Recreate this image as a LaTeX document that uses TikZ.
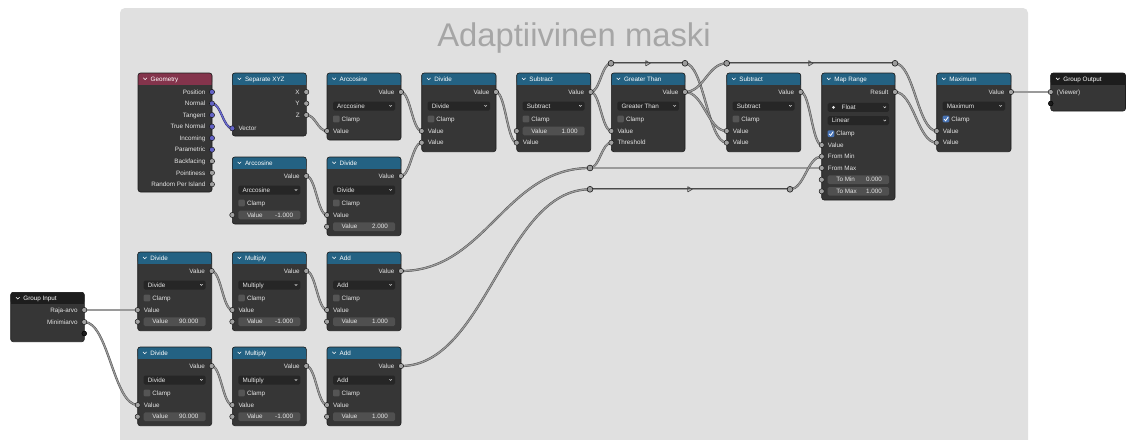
\documentclass[tikz,border=0pt]{standalone}
\usepackage{fontspec}
\setmainfont{Liberation Sans}
\usetikzlibrary{calc}
\definecolor{framebg}{HTML}{E0E0E0}
\definecolor{titlec}{HTML}{A6A6A6}
\definecolor{nodebg}{HTML}{363636}
\definecolor{nodeedge}{HTML}{1E1E1E}
\definecolor{mathhdr}{HTML}{246283}
\definecolor{geohdr}{HTML}{84344C}
\definecolor{grouphdr}{HTML}{1D1D1D}
\definecolor{labelc}{HTML}{E6E6E6}
\definecolor{ddbg}{HTML}{262626}
\definecolor{fldbg}{HTML}{505050}
\definecolor{chkbg}{HTML}{555555}
\definecolor{chkon}{HTML}{4772B3}
\definecolor{sockgray}{HTML}{A1A1A1}
\definecolor{sockvec}{HTML}{6363C7}
\definecolor{sockedge}{HTML}{1A1A1A}
\definecolor{sockempty}{HTML}{1C1C1C}
\definecolor{linkfill}{HTML}{9A9A9A}
\definecolor{linkedge}{HTML}{4A4A4A}
\definecolor{vlinkfill}{HTML}{6A6AD0}
\definecolor{vlinkedge}{HTML}{2A2A60}
\definecolor{rerfill}{HTML}{9C9C9C}
\newcommand\nfont{\fontsize{6.3}{7}\selectfont}
\tikzset{
  lbl/.style={text=labelc, font=\nfont, inner sep=0pt, text height=4.4pt, text depth=0pt},
  hlbl/.style={lbl, text=white},
  titlest/.style={text=titlec, font=\fontsize{32.8}{38}\selectfont, inner sep=0pt},
  link/.style={draw=linkedge, line width=0.45pt, double=linkfill, double distance=1.3pt},
  vlink/.style={draw=vlinkedge, line width=0.45pt, double=vlinkfill, double distance=1.3pt},
  gsock/.style={fill=sockgray, draw=sockedge, line width=0.5pt},
  vsock/.style={fill=sockvec, draw=sockedge, line width=0.5pt},
  esock/.style={fill=sockempty, draw=black, line width=0.5pt},
  rer/.style={fill=rerfill, draw=sockedge, line width=0.6pt},
  flowtri/.style={draw=linkedge, line width=0.7pt, line join=round},
}
\newcounter{lb}
\newcommand\lab[3]{\stepcounter{lb}\node[lbl,#1] (lb\arabic{lb}) at (#2) {#3};}
\newcommand\inl[3]{\lab{anchor=west}{#1+6,#2}{#3}}
\newcommand\outl[3]{\lab{anchor=east}{#1-6.5,#2}{#3}}
\newcommand\nbox[7]{%
  \fill[nodebg, rounded corners=2.5pt] (#2,#3) rectangle (#4,#5);
  \fill[#6, rounded corners=2.5pt] (#2,#3) rectangle (#4,#3+11.5);
  \fill[#6] (#2,#3+6) rectangle (#4,#3+11.5);
  \draw[nodeedge, line width=0.6pt, rounded corners=2.5pt] (#2,#3) rectangle (#4,#5);
  \draw[white, line width=0.55pt] (#2+5.3,#3+4.9) -- (#2+7.1,#3+6.7) -- (#2+8.9,#3+4.9);
  \node[hlbl, anchor=west] (#1) at (#2+12.5,#3+5.9) {#7};}
\newcommand\ddbox[3]{%
  \fill[ddbg, rounded corners=1.5pt] (#1+6,#3-4.5) rectangle (#2-6,#3+4.5);
  \draw[labelc, line width=0.5pt] (#2-11.5,#3-0.8) -- (#2-10.3,#3+0.4) -- (#2-9.1,#3-0.8);}
\newcommand\dd[4]{\ddbox{#1}{#2}{#3}\lab{anchor=west}{#1+10,#3}{#4}}
\newcommand\chk[2]{%
  \fill[chkbg, rounded corners=1pt] (#1+6,#2-3.3) rectangle (#1+12.6,#2+3.3);
  \lab{anchor=west}{#1+14.5,#2}{Clamp}}
\newcommand\chkd[2]{%
  \fill[chkon, rounded corners=1pt] (#1+6,#2-3.3) rectangle (#1+12.6,#2+3.3);
  \draw[white, line width=0.8pt] (#1+7.3,#2+0.1) -- (#1+8.9,#2+1.8) -- (#1+11.5,#2-2);
  \lab{anchor=west}{#1+14.5,#2}{Clamp}}
\newcommand\fld[5]{%
  \fill[fldbg, rounded corners=1.5pt] (#1+6,#3-4.3) rectangle (#2-6,#3+4.3);
  \lab{anchor=west}{#1+14.5,#3}{#4}
  \lab{anchor=east}{#2-13,#3}{#5}}
\newcommand\lnk[3][link]{\draw[#1] let \p1=(#2), \p2=(#3), \n1={max(0.45*abs(\x2-\x1),2pt)} in (\p1) .. controls ([xshift=\n1]\p1) and ([xshift=-\n1]\p2) .. (\p2);}
\newcommand\flow[2]{\draw[flowtri] ($(#1)!0.5!(#2)$) ++(-2.2,-2.6) -- ++(4.4,2.6) -- ++(-4.4,2.6) -- cycle;}
\begin{document}
\begin{tikzpicture}[x=1pt,y=-1pt]
\useasboundingbox (0,0) rectangle (1126,439);
\fill[white] (0,0) rectangle (1126,439);
\fill[framebg, rounded corners=5pt] (120,8) rectangle (1028,470);
\node[titlest, anchor=base] (title) at (574,46) {Adaptiivinen maski};

% ---------- socket coordinates ----------
\coordinate (geo-pos) at (212,92);
\coordinate (geo-nor) at (212,103.5);
\coordinate (geo-tan) at (212,115.1);
\coordinate (geo-tn) at (212,126.6);
\coordinate (geo-inc) at (212,138.1);
\coordinate (geo-par) at (212,149.7);
\coordinate (geo-bf) at (212,161.2);
\coordinate (geo-pt) at (212,172.8);
\coordinate (geo-rpi) at (212,184.3);
\coordinate (sep-x) at (306.3,92);
\coordinate (sep-y) at (306.3,103.5);
\coordinate (sep-z) at (306.3,115);
\coordinate (sep-v) at (232.3,128.3);
\coordinate (acosA-out) at (401,92);
\coordinate (acosA-in) at (327,131);
\coordinate (divA-out) at (496,92);
\coordinate (divA-in1) at (421.7,131);
\coordinate (divA-in2) at (421.7,142.7);
\coordinate (subA-out) at (590.7,92);
\coordinate (subA-in1) at (516.7,131);
\coordinate (subA-in2) at (516.7,142.7);
\coordinate (gt-out) at (685,92);
\coordinate (gt-in1) at (611.3,131);
\coordinate (gt-in2) at (611.3,142.7);
\coordinate (subB-out) at (800.7,92);
\coordinate (subB-in1) at (726.7,131);
\coordinate (subB-in2) at (726.7,142.7);
\coordinate (mr-out) at (895,92);
\coordinate (mr-val) at (821.7,145);
\coordinate (mr-fmin) at (821.7,156.5);
\coordinate (mr-fmax) at (821.7,168);
\coordinate (mr-tmin) at (821.7,179.7);
\coordinate (mr-tmax) at (821.7,191.3);
\coordinate (mx-out) at (1011,92);
\coordinate (mx-in1) at (936.7,131);
\coordinate (mx-in2) at (936.7,142.7);
\coordinate (gout-view) at (1050.7,92);
\coordinate (gout-empty) at (1050.7,103.5);
\coordinate (acosB-out) at (306.3,176);
\coordinate (acosB-in) at (232.3,215);
\coordinate (divB-out) at (401,176);
\coordinate (divB-in1) at (327,215);
\coordinate (divB-in2) at (327,226.7);
\coordinate (divC-out) at (211.7,271);
\coordinate (divC-in1) at (137.7,310);
\coordinate (divC-in2) at (137.7,321.7);
\coordinate (mulC-out) at (306.3,271);
\coordinate (mulC-in1) at (232.3,310);
\coordinate (mulC-in2) at (232.3,321.7);
\coordinate (addC-out) at (401,271);
\coordinate (addC-in1) at (327,310);
\coordinate (addC-in2) at (327,321.7);
\coordinate (divD-out) at (211.7,366);
\coordinate (divD-in1) at (137.7,405);
\coordinate (divD-in2) at (137.7,416.7);
\coordinate (mulD-out) at (306.3,366);
\coordinate (mulD-in1) at (232.3,405);
\coordinate (mulD-in2) at (232.3,416.7);
\coordinate (addD-out) at (401,366);
\coordinate (addD-in1) at (327,405);
\coordinate (addD-in2) at (327,416.7);
\coordinate (gin-raja) at (84.3,310);
\coordinate (gin-mini) at (84.3,322);
\coordinate (gin-empty) at (84.3,333.5);
\coordinate (r1) at (611,63.3);
\coordinate (r2) at (685,63.3);
\coordinate (r3) at (726.7,63.3);
\coordinate (r4) at (895,63.3);
\coordinate (r5) at (590,168);
\coordinate (r6) at (590,189.3);
\coordinate (r7) at (790,189.3);

% ---------- nodes ----------
\nbox{geo}{138}{73}{212}{192}{geohdr}{Geometry}
\outl{212}{92}{Position}
\outl{212}{103.5}{Normal}
\outl{212}{115.1}{Tangent}
\outl{212}{126.6}{True Normal}
\outl{212}{138.1}{Incoming}
\outl{212}{149.7}{Parametric}
\outl{212}{161.2}{Backfacing}
\outl{212}{172.8}{Pointiness}
\outl{212}{184.3}{Random Per Island}

\nbox{sep}{232.3}{73}{306.3}{136}{mathhdr}{Separate XYZ}
\outl{306.3}{92}{X}
\outl{306.3}{103.5}{Y}
\outl{306.3}{115}{Z}
\inl{232.3}{128.3}{Vector}

\nbox{acosA}{327}{73}{401}{140}{mathhdr}{Arccosine}
\outl{401}{92}{Value}
\dd{327}{401}{106}{Arccosine}
\chk{327}{119}
\inl{327}{131}{Value}

\nbox{divA}{421.7}{73}{496}{151.7}{mathhdr}{Divide}
\outl{496}{92}{Value}
\dd{421.7}{496}{106}{Divide}
\chk{421.7}{119}
\inl{421.7}{131}{Value}
\inl{421.7}{142.7}{Value}

\nbox{subA}{516.7}{73}{590.7}{151.7}{mathhdr}{Subtract}
\outl{590.7}{92}{Value}
\dd{516.7}{590.7}{106}{Subtract}
\chk{516.7}{119}
\fld{516.7}{590.7}{131}{Value}{1.000}
\inl{516.7}{142.7}{Value}

\nbox{gt}{611.3}{73}{685}{151.7}{mathhdr}{Greater Than}
\outl{685}{92}{Value}
\dd{611.3}{685}{106}{Greater Than}
\chk{611.3}{119}
\inl{611.3}{131}{Value}
\inl{611.3}{142.7}{Threshold}

\nbox{subB}{726.7}{73}{800.7}{151.7}{mathhdr}{Subtract}
\outl{800.7}{92}{Value}
\dd{726.7}{800.7}{106}{Subtract}
\chk{726.7}{119}
\inl{726.7}{131}{Value}
\inl{726.7}{142.7}{Value}

\nbox{mr}{821.7}{73}{895}{200}{mathhdr}{Map Range}
\outl{895}{92}{Result}
\ddbox{821.7}{895}{107.3}
\fill[labelc] (833.5,107.3) circle[radius=1.5pt];
\lab{anchor=west}{841.5,107.3}{Float}
\dd{821.7}{895}{120.7}{Linear}
\chkd{821.7}{133.7}
\inl{821.7}{145}{Value}
\inl{821.7}{156.5}{From Min}
\inl{821.7}{168}{From Max}
\fld{821.7}{895}{179.7}{To Min}{0.000}
\fld{821.7}{895}{191.3}{To Max}{1.000}

\nbox{mx}{936.7}{73}{1011}{151.7}{mathhdr}{Maximum}
\outl{1011}{92}{Value}
\dd{936.7}{1011}{106}{Maximum}
\chkd{936.7}{119}
\inl{936.7}{131}{Value}
\inl{936.7}{142.7}{Value}

\nbox{gout}{1050.7}{73}{1125.5}{111}{grouphdr}{Group Output}
\inl{1050.7}{92}{(Viewer)}

\nbox{acosB}{232.3}{157}{306.3}{224}{mathhdr}{Arccosine}
\outl{306.3}{176}{Value}
\dd{232.3}{306.3}{190}{Arccosine}
\chk{232.3}{203}
\fld{232.3}{306.3}{215}{Value}{-1.000}

\nbox{divB}{327}{157}{401}{235.7}{mathhdr}{Divide}
\outl{401}{176}{Value}
\dd{327}{401}{190}{Divide}
\chk{327}{203}
\inl{327}{215}{Value}
\fld{327}{401}{226.7}{Value}{2.000}

\nbox{divC}{137.7}{252}{211.7}{330.7}{mathhdr}{Divide}
\outl{211.7}{271}{Value}
\dd{137.7}{211.7}{285}{Divide}
\chk{137.7}{298}
\inl{137.7}{310}{Value}
\fld{137.7}{211.7}{321.7}{Value}{90.000}

\nbox{mulC}{232.3}{252}{306.3}{330.7}{mathhdr}{Multiply}
\outl{306.3}{271}{Value}
\dd{232.3}{306.3}{285}{Multiply}
\chk{232.3}{298}
\inl{232.3}{310}{Value}
\fld{232.3}{306.3}{321.7}{Value}{-1.000}

\nbox{addC}{327}{252}{401}{330.7}{mathhdr}{Add}
\outl{401}{271}{Value}
\dd{327}{401}{285}{Add}
\chk{327}{298}
\inl{327}{310}{Value}
\fld{327}{401}{321.7}{Value}{1.000}

\nbox{divD}{137.7}{347}{211.7}{425.7}{mathhdr}{Divide}
\outl{211.7}{366}{Value}
\dd{137.7}{211.7}{380}{Divide}
\chk{137.7}{393}
\inl{137.7}{405}{Value}
\fld{137.7}{211.7}{416.7}{Value}{90.000}

\nbox{mulD}{232.3}{347}{306.3}{425.7}{mathhdr}{Multiply}
\outl{306.3}{366}{Value}
\dd{232.3}{306.3}{380}{Multiply}
\chk{232.3}{393}
\inl{232.3}{405}{Value}
\fld{232.3}{306.3}{416.7}{Value}{-1.000}

\nbox{addD}{327}{347}{401}{425.7}{mathhdr}{Add}
\outl{401}{366}{Value}
\dd{327}{401}{380}{Add}
\chk{327}{393}
\inl{327}{405}{Value}
\fld{327}{401}{416.7}{Value}{1.000}

\nbox{gin}{10.7}{292.3}{84.3}{341.7}{grouphdr}{Group Input}
\outl{84.3}{310}{Raja-arvo}
\outl{84.3}{322}{Minimiarvo}

% ---------- links ----------
\lnk[vlink]{geo-nor}{sep-v}
\lnk{sep-z}{acosA-in}
\lnk{acosA-out}{divA-in1}
\lnk{divB-out}{divA-in2}
\lnk{acosB-out}{divB-in1}
\lnk{divA-out}{subA-in2}
\lnk{subA-out}{gt-in1}
\lnk{subA-out}{r1}
\lnk{r1}{r2}
\lnk{r2}{subB-in2}
\lnk{gt-out}{subB-in1}
\lnk{gt-out}{r3}
\lnk{r3}{r4}
\lnk{r4}{mx-in1}
\lnk{subB-out}{mr-val}
\lnk{mr-out}{mx-in2}
\lnk{mx-out}{gout-view}
\lnk{gin-raja}{divC-in1}
\lnk{gin-mini}{divD-in1}
\lnk{divC-out}{mulC-in1}
\lnk{mulC-out}{addC-in1}
\lnk{addC-out}{r5}
\lnk{r5}{gt-in2}
\lnk{r5}{mr-fmax}
\lnk{divD-out}{mulD-in1}
\lnk{mulD-out}{addD-in1}
\lnk{addD-out}{r6}
\lnk{r6}{r7}
\lnk{r7}{mr-fmin}
\flow{r1}{r2}
\flow{r3}{r4}
\flow{r6}{r7}

% ---------- sockets ----------
\foreach \s in {geo-pos,geo-nor,geo-tan,geo-tn,geo-inc,geo-par,sep-v}
  {\filldraw[vsock] (\s) circle[radius=2.6pt];}
\foreach \s in {geo-bf,geo-pt,geo-rpi,sep-x,sep-y,sep-z,acosA-out,acosA-in,
  divA-out,divA-in1,divA-in2,subA-out,subA-in1,subA-in2,gt-out,gt-in1,gt-in2,
  subB-out,subB-in1,subB-in2,mr-out,mr-val,mr-fmin,mr-fmax,mr-tmin,mr-tmax,
  mx-out,mx-in1,mx-in2,gout-view,acosB-out,acosB-in,divB-out,divB-in1,divB-in2,
  divC-out,divC-in1,divC-in2,mulC-out,mulC-in1,mulC-in2,addC-out,addC-in1,addC-in2,
  divD-out,divD-in1,divD-in2,mulD-out,mulD-in1,mulD-in2,addD-out,addD-in1,addD-in2,
  gin-raja,gin-mini}
  {\filldraw[gsock] (\s) circle[radius=2.6pt];}
\foreach \s in {gout-empty,gin-empty}
  {\filldraw[esock] (\s) circle[radius=2.4pt];}
\foreach \s in {r1,r2,r3,r4,r5,r6,r7}
  {\filldraw[rer] (\s) circle[radius=2.9pt];}
\end{tikzpicture}
\end{document}
